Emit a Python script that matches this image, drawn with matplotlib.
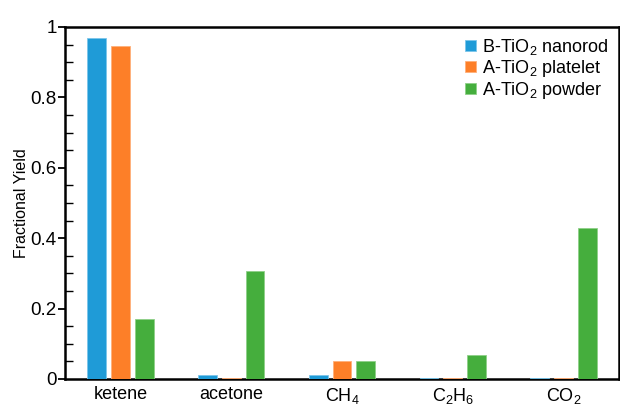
import matplotlib
matplotlib.use("Agg")
import matplotlib.pyplot as plt
import numpy as np
from matplotlib.ticker import MultipleLocator

plt.rcParams['font.family'] = ['Liberation Sans', 'DejaVu Sans']
plt.rcParams['mathtext.fontset'] = 'custom'
plt.rcParams['mathtext.rm'] = 'Liberation Sans'
plt.rcParams['mathtext.it'] = 'Liberation Sans'

categories = ['ketene', 'acetone', r'CH$\mathregular{_4}$', r'C$\mathregular{_2}$H$\mathregular{_6}$', r'CO$\mathregular{_2}$']
series_names = [r'B-TiO$\mathregular{_2}$ nanorod', r'A-TiO$\mathregular{_2}$ platelet', r'A-TiO$\mathregular{_2}$ powder']
nanorod = [0.968, 0.011, 0.011, 0.004, 0.004]
platelet = [0.946, 0.004, 0.050, 0.004, 0.004]
powder = [0.171, 0.307, 0.051, 0.069, 0.429]
colors = ['#1f9bd7', '#fd7f28', '#45ae3d']
edge_colors = ['#7cc6ea', '#ffb07a', '#8fd088']
yticks = [0, 0.2, 0.4, 0.6, 0.8, 1.0]
ytick_labels = ['0', '0.2', '0.4', '0.6', '0.8', '1']

fig = plt.figure(figsize=(6.2, 4.07), dpi=100)
ax = fig.add_axes([0.1048, 0.0688, 0.8935, 0.865])

x = np.arange(len(categories))
width = 0.17
offset = 0.215
for i, (vals, c, ec, name) in enumerate(zip([nanorod, platelet, powder], colors, edge_colors, series_names)):
    ax.bar(x + (i - 1) * offset, vals, width, color=c, edgecolor=ec, linewidth=0.6, label=name, zorder=3)

ax.set_xlim(-0.5, 4.5)
ax.set_ylim(0, 1)
ax.set_xticks(x)
ax.set_xticklabels(categories, fontsize=13)
ax.tick_params(axis='x', length=0, pad=5)
ax.set_yticks(yticks)
ax.set_yticklabels(ytick_labels, fontsize=13.5)
ax.yaxis.set_minor_locator(MultipleLocator(0.05))
ax.tick_params(axis='y', which='major', direction='out', length=5, width=1.3, pad=1)
ax.tick_params(axis='y', which='minor', direction='in', length=6, width=1.0)
for s in ax.spines.values():
    s.set_linewidth(1.8)
    s.set_zorder(2)
ax.set_ylabel('Fractional Yield', fontsize=11.5, labelpad=1)

leg = ax.legend(loc='upper right', frameon=False, fontsize=13, handlelength=0.6, handleheight=0.6,
                handletextpad=0.35, labelspacing=0.05, borderaxespad=0.15)

fig.savefig('out.png', dpi=100)
